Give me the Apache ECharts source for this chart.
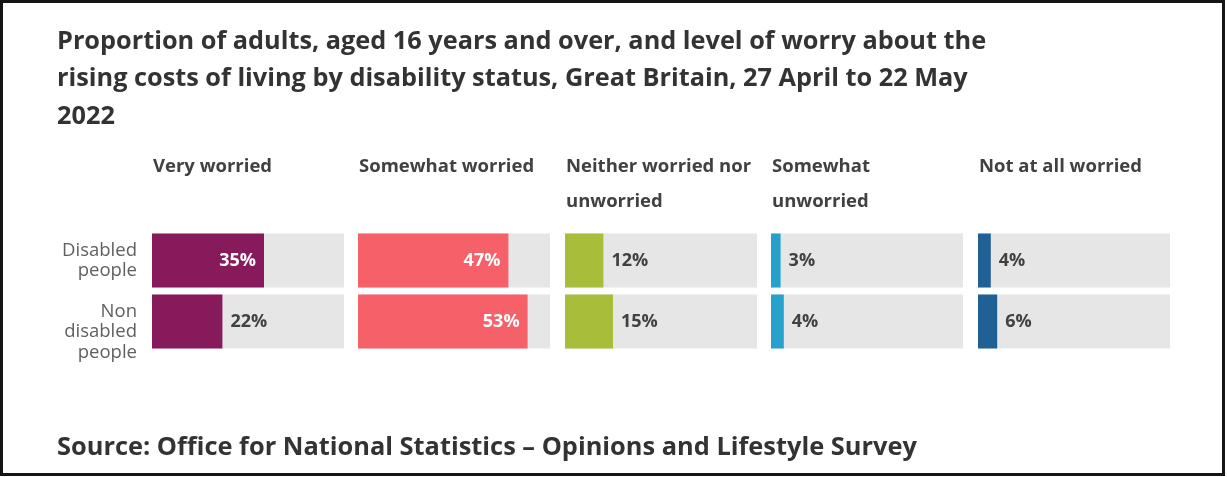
<!DOCTYPE html>
<html>
<head>
<meta charset="utf-8">
<style>
  html, body { margin: 0; padding: 0; background: #ffffff; }
  #chart { width: 1227px; height: 477px; }
</style>
<script src="https://cdn.jsdelivr.net/npm/echarts@6/dist/echarts.min.js"></script>
</head>
<body>
<div id="chart"></div>
<script>
// Worry about rising cost of living, by disability status (%)
const groups = ['Disabled\npeople', 'Non\ndisabled\npeople'];
const levels = ['Very worried', 'Somewhat worried', 'Neither worried nor\nunworried', 'Somewhat\nunworried', 'Not at all worried'];
const veryWorried = [35, 22];
const somewhatWorried = [47, 53];
const neither = [12, 15];
const somewhatUnworried = [3, 4];
const notAtAll = [4, 6];
const axisMax = 60;

const seriesValues = [veryWorried, somewhatWorried, neither, somewhatUnworried, notAtAll];
const colours = ['#871A5B', '#F66068', '#A8BD3A', '#27A0CC', '#206095'];

const FONT = '"Open Sans", "Noto Sans", sans-serif';
const panelLeft = [152, 358, 565, 771, 978];
const panelWidth = 192;
const gridTop = 230;
const gridHeight = 122;

const grids = [], xAxes = [], yAxes = [], series = [], titles = [];

titles.push({
  text: 'Proportion of adults, aged 16 years and over, and level of worry about the\nrising costs of living by disability status, Great Britain, 27 April to 22 May\n2022',
  left: 52, top: 18,
  textStyle: { fontFamily: FONT, fontSize: 25.3, fontWeight: 'bold', color: '#333333', lineHeight: 37.5 }
});
titles.push({
  text: 'Source: Office for National Statistics \u2013 Opinions and Lifestyle Survey',
  left: 52, top: 428,
  textStyle: { fontFamily: FONT, fontSize: 25.4, fontWeight: 'bold', color: '#333333', lineHeight: 30 }
});

levels.forEach((name, i) => {
  titles.push({
    text: name,
    left: panelLeft[i] - 4, top: 144,
    textStyle: { fontFamily: FONT, fontSize: 18.5, fontWeight: 'bold', color: '#414042', lineHeight: 35 }
  });
  grids.push({ left: panelLeft[i], top: gridTop, width: panelWidth, height: gridHeight });
  xAxes.push({ type: 'value', gridIndex: i, min: 0, max: axisMax, show: false });
  yAxes.push({
    type: 'category', gridIndex: i, inverse: true, data: groups,
    axisLine: { show: false }, axisTick: { show: false }, splitLine: { show: false },
    axisLabel: {
      show: i === 0, interval: 0, margin: 15, align: 'right',
      // the three-line label sits a half line below its bar centre
      formatter: (v, idx) => (idx === 1 ? '\n' + v : v),
      fontFamily: FONT, fontSize: 18.5, color: '#5f6062', lineHeight: 20.5
    }
  });
  series.push({
    type: 'bar', xAxisIndex: i, yAxisIndex: i,
    barWidth: 54,
    showBackground: true,
    backgroundStyle: { color: '#E6E6E7' },
    itemStyle: { color: colours[i] },
    data: seriesValues[i].map(v => {
      const inside = v >= 30;
      return {
        value: v,
        label: {
          show: true,
          position: inside ? 'insideRight' : 'right',
          distance: 8,
          formatter: '{c}%',
          fontFamily: FONT, fontSize: 18, fontWeight: 'bold',
          color: inside ? '#ffffff' : '#414042'
        }
      };
    })
  });
});

const chart = echarts.init(document.getElementById('chart'));
chart.setOption({
  backgroundColor: '#ffffff',
  animation: false,
  title: titles,
  grid: grids,
  xAxis: xAxes,
  yAxis: yAxes,
  series: series,
  graphic: [{
    type: 'rect', silent: true,
    shape: { x: 1.5, y: 1.5, width: 1222, height: 473 },
    style: { fill: 'none', stroke: '#151515', lineWidth: 3 }
  }]
});
</script>
</body>
</html>
